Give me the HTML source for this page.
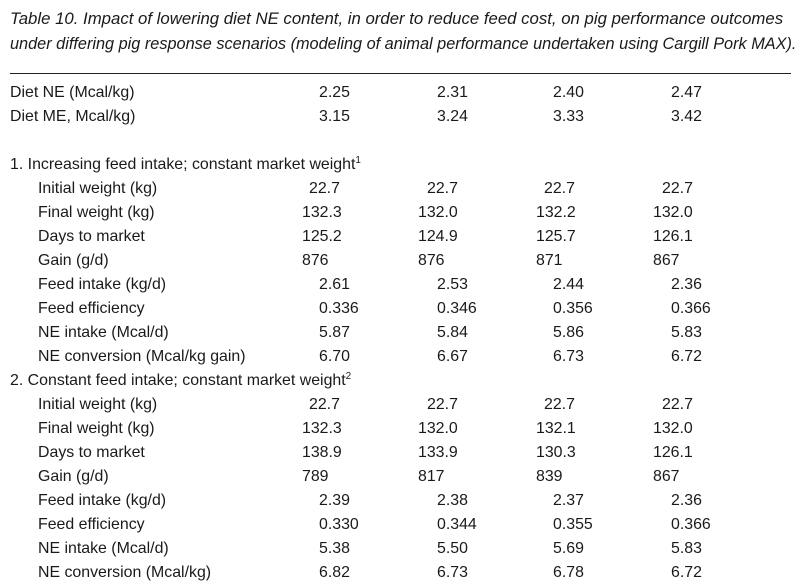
<!DOCTYPE html>
<html><head><meta charset="utf-8"><style>
html,body{margin:0;padding:0;background:#fff;}
body{width:804px;height:582px;position:relative;overflow:hidden;font-family:"Liberation Sans",sans-serif;color:#1a1a1a;}
.t{position:absolute;white-space:nowrap;font-style:italic;font-size:16.3px;left:10px;transform-origin:0 0;}
.r{position:absolute;left:0;width:804px;height:24px;font-size:15.9px;line-height:24px;}
.r span{position:absolute;white-space:nowrap;}
.rule{position:absolute;left:10px;width:781px;top:73px;height:1px;background:#222;}
sup{font-size:10px;line-height:0;vertical-align:6px;}
</style></head><body>
<div class="t" style="top:10px;transform:scaleX(1.03)">Table 10. Impact of lowering diet NE content, in order to reduce feed cost, on pig performance outcomes</div>
<div class="t" style="top:35px">under differing pig response scenarios (modeling of animal performance undertaken using Cargill Pork MAX).</div>
<div class="rule"></div>

<div class="r" style="top:81px"><span style="left:10px">Diet NE (Mcal/kg)</span><span style="left:319px">2.25</span><span style="left:437px">2.31</span><span style="left:553px">2.40</span><span style="left:671px">2.47</span></div>
<div class="r" style="top:105px"><span style="left:10px">Diet ME, Mcal/kg)</span><span style="left:319px">3.15</span><span style="left:437px">3.24</span><span style="left:553px">3.33</span><span style="left:671px">3.42</span></div>

<div class="r" style="top:153px"><span style="left:10px">1. Increasing feed intake; constant market weight<sup>1</sup></span></div>
<div class="r" style="top:177px"><span style="left:38px">Initial weight (kg)</span><span style="left:309px">22.7</span><span style="left:427px">22.7</span><span style="left:544px">22.7</span><span style="left:662px">22.7</span></div>
<div class="r" style="top:201px"><span style="left:38px">Final weight (kg)</span><span style="left:302px">132.3</span><span style="left:418px">132.0</span><span style="left:536px">132.2</span><span style="left:653px">132.0</span></div>
<div class="r" style="top:225px"><span style="left:38px">Days to market</span><span style="left:302px">125.2</span><span style="left:418px">124.9</span><span style="left:536px">125.7</span><span style="left:653px">126.1</span></div>
<div class="r" style="top:249px"><span style="left:38px">Gain (g/d)</span><span style="left:302px">876</span><span style="left:418px">876</span><span style="left:536px">871</span><span style="left:653px">867</span></div>
<div class="r" style="top:273px"><span style="left:38px">Feed intake (kg/d)</span><span style="left:319px">2.61</span><span style="left:437px">2.53</span><span style="left:553px">2.44</span><span style="left:671px">2.36</span></div>
<div class="r" style="top:297px"><span style="left:38px">Feed efficiency</span><span style="left:319px">0.336</span><span style="left:437px">0.346</span><span style="left:553px">0.356</span><span style="left:671px">0.366</span></div>
<div class="r" style="top:321px"><span style="left:38px">NE intake (Mcal/d)</span><span style="left:319px">5.87</span><span style="left:437px">5.84</span><span style="left:553px">5.86</span><span style="left:671px">5.83</span></div>
<div class="r" style="top:345px"><span style="left:38px">NE conversion (Mcal/kg gain)</span><span style="left:319px">6.70</span><span style="left:437px">6.67</span><span style="left:553px">6.73</span><span style="left:671px">6.72</span></div>

<div class="r" style="top:369px"><span style="left:10px">2. Constant feed intake; constant market weight<sup>2</sup></span></div>
<div class="r" style="top:393px"><span style="left:38px">Initial weight (kg)</span><span style="left:309px">22.7</span><span style="left:427px">22.7</span><span style="left:544px">22.7</span><span style="left:662px">22.7</span></div>
<div class="r" style="top:417px"><span style="left:38px">Final weight (kg)</span><span style="left:302px">132.3</span><span style="left:418px">132.0</span><span style="left:536px">132.1</span><span style="left:653px">132.0</span></div>
<div class="r" style="top:441px"><span style="left:38px">Days to market</span><span style="left:302px">138.9</span><span style="left:418px">133.9</span><span style="left:536px">130.3</span><span style="left:653px">126.1</span></div>
<div class="r" style="top:465px"><span style="left:38px">Gain (g/d)</span><span style="left:302px">789</span><span style="left:418px">817</span><span style="left:536px">839</span><span style="left:653px">867</span></div>
<div class="r" style="top:489px"><span style="left:38px">Feed intake (kg/d)</span><span style="left:319px">2.39</span><span style="left:437px">2.38</span><span style="left:553px">2.37</span><span style="left:671px">2.36</span></div>
<div class="r" style="top:513px"><span style="left:38px">Feed efficiency</span><span style="left:319px">0.330</span><span style="left:437px">0.344</span><span style="left:553px">0.355</span><span style="left:671px">0.366</span></div>
<div class="r" style="top:537px"><span style="left:38px">NE intake (Mcal/d)</span><span style="left:319px">5.38</span><span style="left:437px">5.50</span><span style="left:553px">5.69</span><span style="left:671px">5.83</span></div>
<div class="r" style="top:561px"><span style="left:38px">NE conversion (Mcal/kg)</span><span style="left:319px">6.82</span><span style="left:437px">6.73</span><span style="left:553px">6.78</span><span style="left:671px">6.72</span></div>
</body></html>
